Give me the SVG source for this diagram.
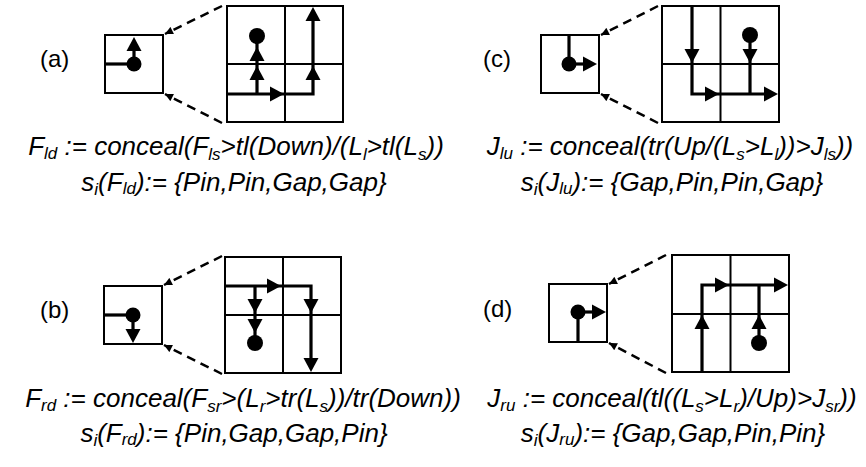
<svg xmlns="http://www.w3.org/2000/svg" xmlns:xlink="http://www.w3.org/1999/xlink" width="866" height="467" viewBox="0 0 866 467">
<defs>
<style>
.box{fill:none;stroke:#000;stroke-width:2}
.arr{fill:none;stroke:#000;stroke-width:3.2}
.dash{fill:none;stroke:#000;stroke-width:2.5;stroke-dasharray:9 6}
.dot{fill:#000}
text{font-family:"Liberation Sans",Arial,sans-serif;font-size:26px;fill:#000}
.f{font-style:italic}
.lbl{font-size:24px}
.sb{font-size:17px}
</style>
<path id="ah" d="M0,0 L-14,-7.5 L-14,7.5 Z" fill="#000"/>
<marker id="dm" viewBox="0 0 10 10" refX="10" refY="5" markerWidth="9" markerHeight="8" markerUnits="userSpaceOnUse" orient="auto"><path d="M0,0 L10,5 L0,10 Z" fill="#000"/></marker>
</defs>
<rect width="866" height="467" fill="#fff"/>

<g id="panel-a">
<text class="lbl" x="40" y="67">(a)</text>
<g id="a-small">
<rect class="box" x="105" y="35" width="58" height="58"/>
<line class="arr" x1="105" y1="64" x2="134" y2="64"/>
<line class="arr" x1="134" y1="64" x2="134" y2="45"/>
<circle class="dot" cx="134" cy="64" r="7.5"/>
<use xlink:href="#ah" transform="translate(134,37) rotate(-90)"/>
</g>
<g id="a-big">
<rect class="box" x="227" y="6" width="116" height="116"/>
<line class="box" x1="285" y1="6" x2="285" y2="122"/>
<line class="box" x1="227" y1="64" x2="343" y2="64"/>
<polyline class="arr" points="227,94 313,94 313,14"/>
<line class="arr" x1="257" y1="94" x2="257" y2="40"/>
<circle class="dot" cx="257" cy="36" r="8"/>
<use xlink:href="#ah" transform="translate(284,94)"/>
<use xlink:href="#ah" transform="translate(313,66) rotate(-90)"/>
<use xlink:href="#ah" transform="translate(313,7) rotate(-90)"/>
<use xlink:href="#ah" transform="translate(257,66) rotate(-90)"/>
<use xlink:href="#ah" transform="translate(257,47) rotate(-90)"/>
</g>
<g id="a-connectors">
<line class="dash" x1="222" y1="6" x2="165" y2="34" marker-end="url(#dm)"/>
<line class="dash" x1="222" y1="123" x2="165" y2="94" marker-end="url(#dm)"/>
</g>
<text class="f" x="236" y="155" text-anchor="middle">F<tspan class="sb" dy="4">ld</tspan><tspan dy="-4"> := conceal(F</tspan><tspan class="sb" dy="5">ls</tspan><tspan dy="-5">&gt;tl(Down)/(L</tspan><tspan class="sb" dy="5">l</tspan><tspan dy="-5">&gt;tl(L</tspan><tspan class="sb" dy="5">s</tspan><tspan dy="-5">))</tspan></text>
<text class="f" x="234" y="191" text-anchor="middle">s<tspan class="sb" dy="4">i</tspan><tspan dy="-4">(F</tspan><tspan class="sb" dy="3">ld</tspan><tspan dy="-3">):= {Pin,Pin,Gap,Gap}</tspan></text>
</g>

<g id="panel-c">
<text class="lbl" x="483" y="67">(c)</text>
<g id="c-small">
<rect class="box" x="541" y="35" width="58" height="58"/>
<line class="arr" x1="569" y1="35" x2="569" y2="64"/>
<line class="arr" x1="569" y1="64" x2="588" y2="64"/>
<circle class="dot" cx="569" cy="64" r="7.5"/>
<use xlink:href="#ah" transform="translate(597,64)"/>
</g>
<g id="c-big">
<rect class="box" x="662" y="6" width="117" height="116"/>
<line class="box" x1="720.5" y1="6" x2="720.5" y2="122"/>
<line class="box" x1="662" y1="64" x2="779" y2="64"/>
<polyline class="arr" points="692,6 692,94 770,94"/>
<line class="arr" x1="750" y1="35" x2="750" y2="94"/>
<circle class="dot" cx="750" cy="35" r="8"/>
<use xlink:href="#ah" transform="translate(692,63) rotate(90)"/>
<use xlink:href="#ah" transform="translate(719,94)"/>
<use xlink:href="#ah" transform="translate(778,94)"/>
<use xlink:href="#ah" transform="translate(750,63) rotate(90)"/>
</g>
<g id="c-connectors">
<line class="dash" x1="658" y1="6" x2="601" y2="35" marker-end="url(#dm)"/>
<line class="dash" x1="658" y1="123" x2="601" y2="94" marker-end="url(#dm)"/>
</g>
<text class="f" x="670" y="155" text-anchor="middle">J<tspan class="sb" dy="4">lu</tspan><tspan dy="-4"> := conceal(tr(Up/(L</tspan><tspan class="sb" dy="5">s</tspan><tspan dy="-5">&gt;L</tspan><tspan class="sb" dy="5">l</tspan><tspan dy="-5">))&gt;J</tspan><tspan class="sb" dy="5">ls</tspan><tspan dy="-5">))</tspan></text>
<text class="f" x="672" y="191" text-anchor="middle">s<tspan class="sb" dy="4">i</tspan><tspan dy="-4">(J</tspan><tspan class="sb" dy="3">lu</tspan><tspan dy="-3">):= {Gap,Pin,Pin,Gap}</tspan></text>
</g>

<g id="panel-b">
<text class="lbl" x="40" y="318">(b)</text>
<g id="b-small">
<rect class="box" x="104" y="286" width="58" height="58"/>
<line class="arr" x1="104" y1="315" x2="133" y2="315"/>
<line class="arr" x1="133" y1="315" x2="133" y2="334"/>
<circle class="dot" cx="133" cy="315" r="7.5"/>
<use xlink:href="#ah" transform="translate(133,343) rotate(90)"/>
</g>
<g id="b-big">
<rect class="box" x="225" y="257" width="116" height="116"/>
<line class="box" x1="283" y1="257" x2="283" y2="373"/>
<line class="box" x1="225" y1="315" x2="341" y2="315"/>
<polyline class="arr" points="225,286 311,286 311,364"/>
<line class="arr" x1="255" y1="286" x2="255" y2="343"/>
<circle class="dot" cx="255" cy="343" r="8"/>
<use xlink:href="#ah" transform="translate(281,286)"/>
<use xlink:href="#ah" transform="translate(311,313) rotate(90)"/>
<use xlink:href="#ah" transform="translate(311,372) rotate(90)"/>
<use xlink:href="#ah" transform="translate(255,313) rotate(90)"/>
<use xlink:href="#ah" transform="translate(255,333) rotate(90)"/>
</g>
<g id="b-connectors">
<line class="dash" x1="222" y1="256" x2="164" y2="285" marker-end="url(#dm)"/>
<line class="dash" x1="222" y1="374" x2="164" y2="345" marker-end="url(#dm)"/>
</g>
<text class="f" x="243" y="407" text-anchor="middle">F<tspan class="sb" dy="4">rd</tspan><tspan dy="-4"> := conceal(F</tspan><tspan class="sb" dy="5">sr</tspan><tspan dy="-5">&gt;(L</tspan><tspan class="sb" dy="5">r</tspan><tspan dy="-5">&gt;tr(L</tspan><tspan class="sb" dy="5">s</tspan><tspan dy="-5">))/tr(Down))</tspan></text>
<text class="f" x="234" y="442" text-anchor="middle">s<tspan class="sb" dy="4">i</tspan><tspan dy="-4">(F</tspan><tspan class="sb" dy="3">rd</tspan><tspan dy="-3">):= {Pin,Gap,Gap,Pin}</tspan></text>
</g>

<g id="panel-d">
<text class="lbl" x="483" y="317">(d)</text>
<g id="d-small">
<rect class="box" x="549" y="284" width="58" height="58"/>
<line class="arr" x1="578" y1="342" x2="578" y2="312"/>
<line class="arr" x1="578" y1="312" x2="597" y2="312"/>
<circle class="dot" cx="578" cy="312" r="7.5"/>
<use xlink:href="#ah" transform="translate(606,312)"/>
</g>
<g id="d-big">
<rect class="box" x="672" y="255" width="117" height="117"/>
<line class="box" x1="730.5" y1="255" x2="730.5" y2="372"/>
<line class="box" x1="672" y1="314" x2="789" y2="314"/>
<polyline class="arr" points="702,372 702,285 780,285"/>
<line class="arr" x1="759" y1="343" x2="759" y2="285"/>
<circle class="dot" cx="759" cy="343" r="8"/>
<use xlink:href="#ah" transform="translate(702,315) rotate(-90)"/>
<use xlink:href="#ah" transform="translate(729,285)"/>
<use xlink:href="#ah" transform="translate(788,285)"/>
<use xlink:href="#ah" transform="translate(759,315) rotate(-90)"/>
</g>
<g id="d-connectors">
<line class="dash" x1="666" y1="255" x2="609" y2="284" marker-end="url(#dm)"/>
<line class="dash" x1="666" y1="373" x2="609" y2="343" marker-end="url(#dm)"/>
</g>
<text class="f" x="672" y="407" text-anchor="middle">J<tspan class="sb" dy="4">ru</tspan><tspan dy="-4"> := conceal(tl((L</tspan><tspan class="sb" dy="5">s</tspan><tspan dy="-5">&gt;L</tspan><tspan class="sb" dy="5">r</tspan><tspan dy="-5">)/Up)&gt;J</tspan><tspan class="sb" dy="5">sr</tspan><tspan dy="-5">))</tspan></text>
<text class="f" x="673" y="442" text-anchor="middle">s<tspan class="sb" dy="4">i</tspan><tspan dy="-4">(J</tspan><tspan class="sb" dy="3">ru</tspan><tspan dy="-3">):= {Gap,Gap,Pin,Pin}</tspan></text>
</g>
</svg>
